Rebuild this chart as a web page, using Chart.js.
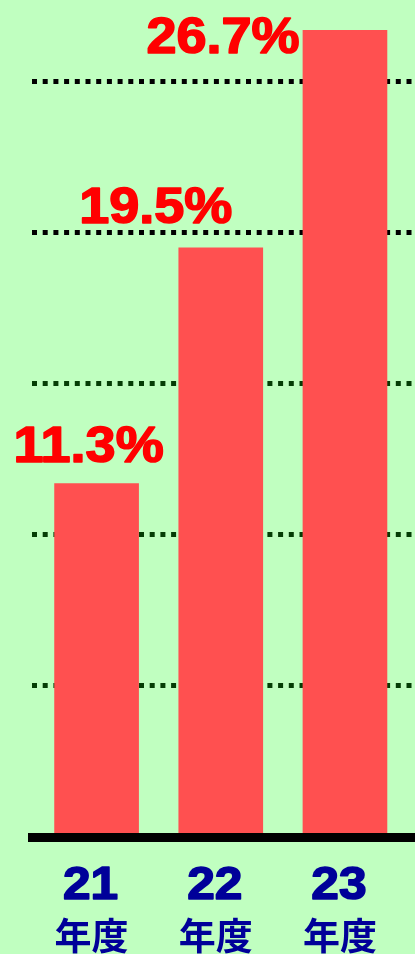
<!DOCTYPE html>
<html lang="ja">
<head>
<meta charset="utf-8">
<title>年度別</title>
<script src="https://cdn.jsdelivr.net/npm/chart.js@4.4.1/dist/chart.umd.min.js"></script>
<style>
    html, body { margin: 0; padding: 0; background: #c0ffc0; }
    #caja { width: 415px; height: 954px; position: relative; }
</style>
</head>
<body>
<div id="caja"><canvas id="myChart"></canvas></div>
<script>
// datos
const anios = ['21', '22', '23'];
const sufijo = '年度';
const alturas = [11.7, 19.5, 26.7];          // alto de cada barra (en %)
const etiquetas = ['11.3%', '19.5%', '26.7%']; // texto que aparece sobre cada barra
const lineas = [5, 10, 15, 20, 25];           // lineas punteadas del eje y

// desplazamientos de las etiquetas respecto a la barra (solo estilo)
const etqDx = [-8, -65, -122];
const etqDy = [-21, -25, 23];

const fondo = {
    id: 'fondo',
    beforeDraw: (chart) => {
        let ctx = chart.ctx;
        ctx.save();
        ctx.fillStyle = '#c0ffc0';
        ctx.fillRect(0, 0, chart.width, chart.height);
        ctx.restore();
    }
};

// texto un poco mas ancho y mas grueso, como en el original
const textoEstirado = (ctx, txt, x, y, estirar, grosor) => {
    ctx.save();
    ctx.translate(x, y);
    ctx.scale(estirar, 1);
    ctx.fillText(txt, 0, 0);
    if (grosor) {
        ctx.lineWidth = grosor;
        ctx.lineJoin = 'round';
        ctx.strokeStyle = ctx.fillStyle;
        ctx.strokeText(txt, 0, 0);
    }
    ctx.restore();
};

const etiquetasBarras = {
    id: 'etiquetasBarras',
    afterDatasetsDraw: (chart) => {
        let ctx = chart.ctx;
        let meta = chart.getDatasetMeta(0);
        ctx.save();
        ctx.fillStyle = '#ff0000';
        ctx.font = 'bold 50px "Liberation Sans", Arial, sans-serif';
        ctx.textAlign = 'center';
        ctx.textBaseline = 'alphabetic';
        meta.data.forEach((barra, i) => {
            textoEstirado(ctx, etiquetas[i], barra.x + etqDx[i], barra.y + etqDy[i], 1.08, 1.6);
        });
        ctx.restore();
    }
};

const ejeAbajo = {
    id: 'ejeAbajo',
    afterDraw: (chart) => {
        let ctx = chart.ctx;
        let x = chart.scales.x;
        ctx.save();
        ctx.fillStyle = '#000099';
        ctx.textAlign = 'center';
        for (let i = 0; i < anios.length; i++) {
            let px = x.getPixelForValue(i);
            ctx.font = 'bold 46px "Liberation Sans", Arial, sans-serif';
            ctx.textBaseline = 'alphabetic';
            textoEstirado(ctx, anios[i], px - 6, 899, 1.08, 1.6);
            ctx.font = 'bold 37px "Noto Sans CJK JP", sans-serif';
            ctx.textBaseline = 'middle';
            ctx.fillText(sufijo, px - 5, 936);
        }
        ctx.restore();
    }
};

let ctx = document.getElementById('myChart').getContext('2d');
let myChart = new Chart(ctx, {
    type: 'bar',
    data: {
        datasets: [{
            data: alturas.map((v, i) => ({ x: i, y: v })),
            backgroundColor: '#ff5050',
            borderWidth: 0,
            barThickness: 84
        }]
    },
    options: {
        responsive: true,
        maintainAspectRatio: false,
        animation: false,
        devicePixelRatio: 1,
        layout: { padding: { left: 32, right: 0, top: 0, bottom: 109 } },
        plugins: {
            legend: { display: false },
            tooltip: { enabled: false }
        },
        scales: {
            x: {
                type: 'linear',
                offset: false,
                min: -0.52,
                max: 2.564,
                ticks: { display: false },
                grid: { display: false, offset: false },
                border: { display: true, color: '#000000', width: 9, z: 1 }
            },
            y: {
                min: 0,
                max: 27.7,
                afterBuildTicks: (eje) => {
                    eje.ticks = lineas.map(v => ({ value: v }));
                },
                ticks: { display: false },
                grid: {
                    drawTicks: false,
                    lineWidth: 5,
                    color: (c) => (c.tick && c.tick.value >= 20) ? '#000000' : '#053d05'
                },
                border: { display: false, dash: [5, 5.7] }
            }
        }
    },
    plugins: [fondo, etiquetasBarras, ejeAbajo]
});
</script>
</body>
</html>
